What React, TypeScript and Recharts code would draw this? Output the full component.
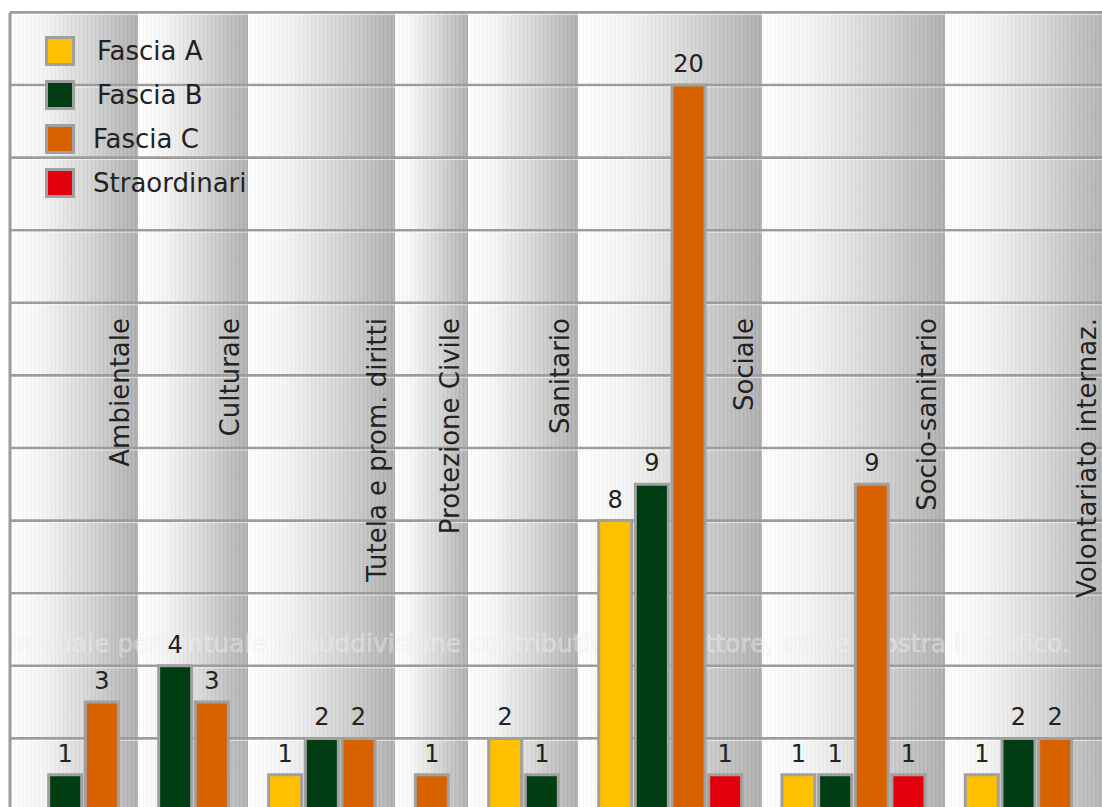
import React from "react";
import {
  BarChart,
  Bar,
  XAxis,
  YAxis,
  CartesianGrid,
  ReferenceLine,
  LabelList,
  Cell,
  Legend,
} from "recharts";

const categories = [
  "Ambientale",
  "Culturale",
  "Tutela e prom. diritti",
  "Protezione Civile",
  "Sanitario",
  "Sociale",
  "Socio-sanitario",
  "Volontariato internaz.",
];
const seriesNames = ["Fascia A", "Fascia B", "Fascia C", "Straordinari"];
const seriesColors = ["#FFC000", "#003D12", "#D96200", "#E1000C"];
const fasciaA = [0, 0, 1, 0, 2, 8, 1, 1];
const fasciaB = [1, 4, 2, 0, 1, 9, 1, 2];
const fasciaC = [3, 3, 2, 1, 0, 20, 9, 2];
const straordinari = [0, 0, 0, 0, 0, 1, 1, 0];
const gridTicks = [2, 4, 6, 8, 10, 12, 14, 16, 18, 20, 22];
const Y_MAX = 22;
const ghostCaption =
  "In quale percentuale di suddivisione contributiva per settore, come mostra il grafico.";
const ghostTick = 4;

const FONT = "'DejaVu Sans', Verdana, sans-serif";

type Row = { pos: number; value: number; color: string; catLabel?: string };

const seriesValues = [fasciaA, fasciaB, fasciaC, straordinari];
const rows: Row[] = [];
const dividers: number[] = [0];
let slot = 1;
categories.forEach((cat, i) => {
  seriesValues.forEach((vals, s) => {
    if (vals[i] > 0) {
      rows.push({ pos: slot + 0.5, value: vals[i], color: seriesColors[s] });
      slot++;
    }
  });
  rows[rows.length - 1].catLabel = cat;
  dividers.push(slot + 0.5);
  slot++;
});
const totalSlots = slot;
const stripeStarts = dividers.slice(0, -1);

const PLOT_W = 1100;
const PLOT_H = 798.6;
const MARGIN = { top: 4.4, right: 0, bottom: 0, left: 2 };
const CHART_W = PLOT_W + MARGIN.left + MARGIN.right;
const CHART_H = PLOT_H + MARGIN.top + MARGIN.bottom;
const slotPx = PLOT_W / totalSlots;

const ghostLineY = MARGIN.top + PLOT_H * (1 - ghostTick / Y_MAX);

const CategoryLabel = (props: any) => {
  const { value } = props;
  if (!value) return null;
  const vb = props.viewBox || props;
  const isLast = value === categories[categories.length - 1];
  const bx = Number(vb.x) + Number(vb.width) + (isLast ? 24 : 11);
  const ty = 310;
  return (
    <text
      x={bx}
      y={ty}
      transform={`rotate(-90, ${bx}, ${ty})`}
      textAnchor="end"
      fontSize={26}
      fill="#222"
      fontFamily={FONT}
    >
      {value}
    </text>
  );
};

const gridLine = (p: any) => {
  const isGhost = Math.abs(Number(p.y1) - ghostLineY) < 1;
  return (
    <g key={`hl-${p.index}-${p.y1}`}>
      <line
        x1={p.x1}
        y1={p.y1}
        x2={p.x2}
        y2={p.y2}
        stroke="#9c9c9c"
        strokeWidth={2.6}
        fill="none"
      />
      <line
        x1={p.x1}
        y1={Number(p.y1) + 2}
        x2={p.x2}
        y2={Number(p.y2) + 2}
        stroke="#ffffff"
        strokeOpacity={0.6}
        strokeWidth={1}
        fill="none"
      />
      {isGhost ? (
        <text
          x={Number(p.x1) - 1}
          y={Number(p.y1) - 14}
          fontSize={25}
          fill="#ffffff"
          fillOpacity={0.3}
          stroke="#e4e4e4"
          strokeWidth={0.45}
          strokeOpacity={0.8}
          fontFamily={FONT}
        >
          {ghostCaption}
        </text>
      ) : null}
    </g>
  );
};

const noLine = () => <g />;

const LegendBox = () => (
  <div style={{ fontFamily: FONT }}>
    {seriesNames.map((name, i) => (
      <div
        key={name}
        style={{
          display: "flex",
          alignItems: "center",
          height: 30,
          marginBottom: 14,
        }}
      >
        <div
          style={{
            width: 30,
            height: 30,
            boxSizing: "border-box",
            background: seriesColors[i],
            border: "3px solid #a0a0a0",
          }}
        />
        <span
          style={{
            marginLeft: i < 2 ? 22 : 18,
            fontSize: 26,
            color: "#222",
            lineHeight: "30px",
          }}
        >
          {name}
        </span>
      </div>
    ))}
  </div>
);

const vGen = (args: any) => {
  const off = (args && args.offset) || {};
  const left = typeof off.left === "number" ? off.left : MARGIN.left;
  const w = typeof off.width === "number" ? off.width : PLOT_W;
  return stripeStarts.map((d) => left + (d / totalSlots) * w);
};
const hGen = (args: any) => {
  const off = (args && args.offset) || {};
  const top = typeof off.top === "number" ? off.top : MARGIN.top;
  const h = typeof off.height === "number" ? off.height : PLOT_H;
  return gridTicks.map((t) => top + h * (1 - t / Y_MAX));
};

export default function App() {
  return (
    <div
      style={{
        position: "fixed",
        left: 8,
        top: 8,
        width: 1094,
        height: 799,
        overflow: "hidden",
        background: "#fff",
      }}
    >
      <BarChart width={CHART_W} height={CHART_H} data={rows} margin={MARGIN}>
        <defs>
          <linearGradient id="colGrad" x1="0" y1="0" x2="1" y2="0">
            <stop offset="0%" stopColor="#ffffff" />
            <stop offset="25%" stopColor="#f4f4f4" />
            <stop offset="60%" stopColor="#d5d5d5" />
            <stop offset="100%" stopColor="#acacac" />
          </linearGradient>
          <pattern id="tex" width="4" height="9" patternUnits="userSpaceOnUse">
            <path d="M1 0 L2 4.5 L1 9" stroke="#ffffff" strokeWidth="0.7" fill="none" opacity="0.3" />
            <path d="M3 0 L3.6 4.5 L3 9" stroke="#777777" strokeWidth="0.5" fill="none" opacity="0.12" />
          </pattern>
        </defs>
        <XAxis
          type="number"
          dataKey="pos"
          domain={[0, totalSlots]}
          hide
          allowDataOverflow
        />
        <YAxis type="number" domain={[0, Y_MAX]} ticks={gridTicks} hide allowDataOverflow />
        <CartesianGrid
          horizontal={false}
          vertical={noLine}
          verticalFill={["url(#colGrad)"]}
          verticalCoordinatesGenerator={vGen}
          stroke="none"
        />
        <CartesianGrid
          horizontal={gridLine}
          vertical={noLine}
          verticalFill={["url(#tex)"]}
          verticalCoordinatesGenerator={vGen}
          horizontalCoordinatesGenerator={hGen}
          stroke="#9c9c9c"
        />
        <ReferenceLine x={0} stroke="#9c9c9c" strokeWidth={3} ifOverflow="visible" />
        <Bar
          dataKey="value"
          barSize={slotPx}
          stroke="#a0a0a0"
          strokeWidth={3}
          isAnimationActive={false}
        >
          {rows.map((r, i) => (
            <Cell key={"c" + i} fill={r.color} />
          ))}
          <LabelList
            dataKey="value"
            position="top"
            offset={13}
            fill="#222"
            fontSize={24}
            fontFamily={FONT}
          />
          <LabelList dataKey="catLabel" content={<CategoryLabel />} />
        </Bar>
        <Legend
          layout="vertical"
          align="center"
          verticalAlign="middle"
          content={<LegendBox />}
          wrapperStyle={{ position: "absolute", left: 37, top: 28, width: "auto" }}
        />
      </BarChart>
    </div>
  );
}
